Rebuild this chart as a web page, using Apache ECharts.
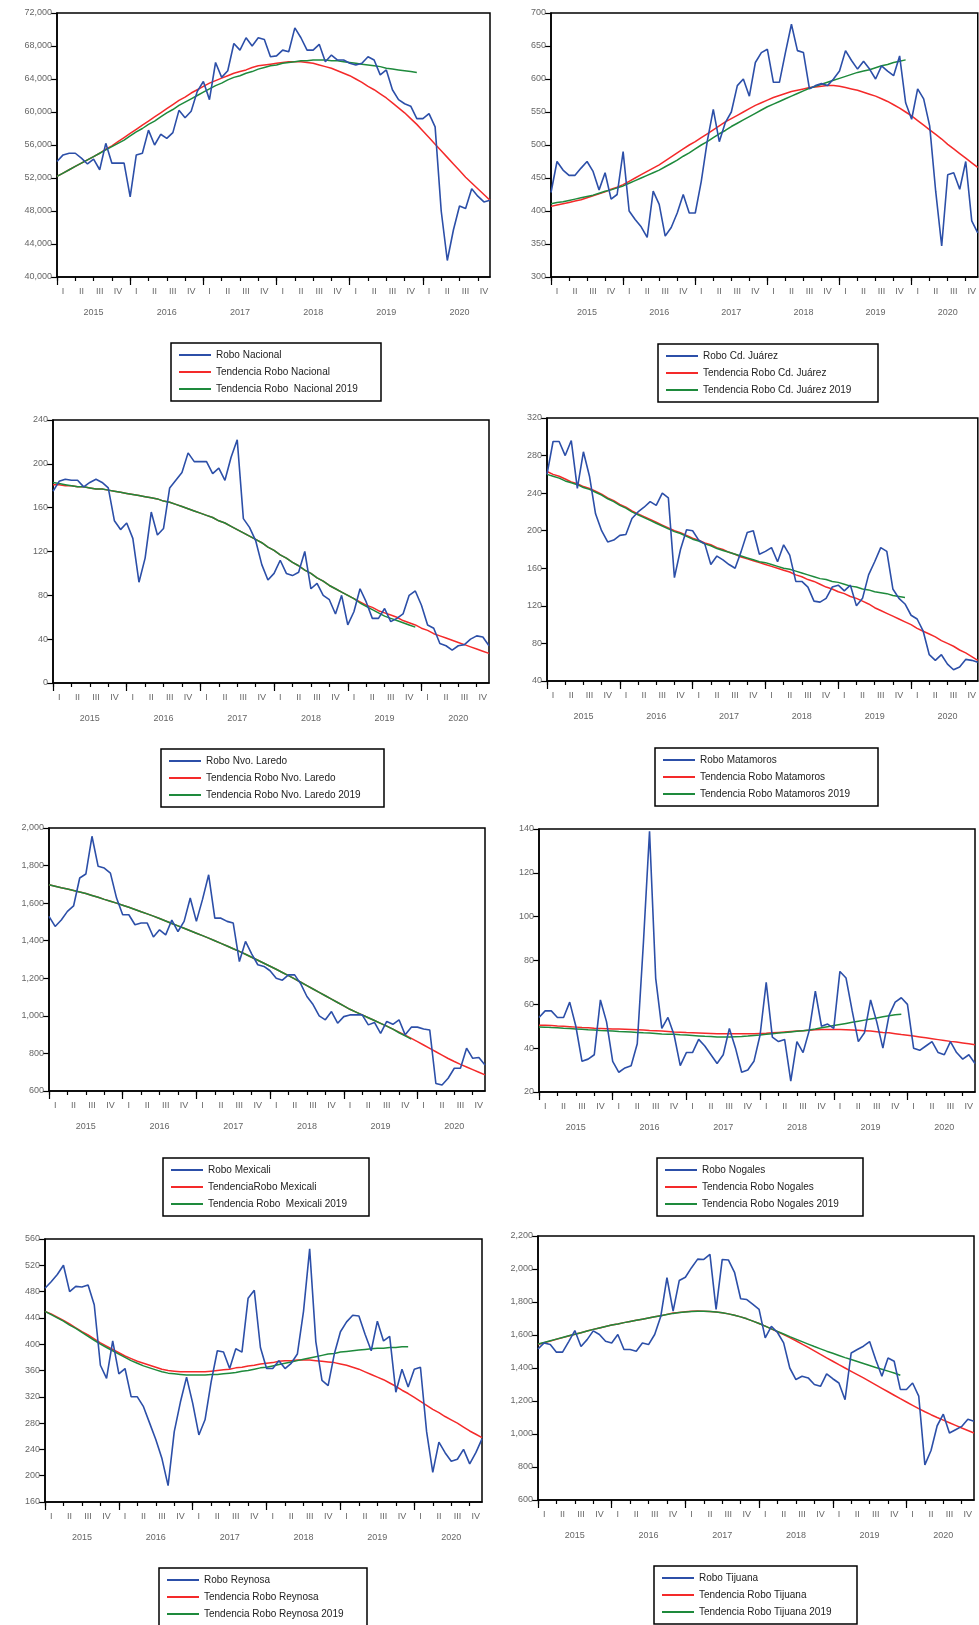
<!DOCTYPE html>
<html>
<head>
<meta charset="utf-8">
<title>Robo - tendencias</title>
<script src="https://cdn.jsdelivr.net/npm/echarts@6/dist/echarts.min.js"></script>
<style>
  html, body { margin: 0; padding: 0; background: #fff; }
  #chart { width: 979px; height: 1625px; }
</style>
</head>
<body>
<div id="chart"></div>
<script>
// ---- monthly series, Jan 2015 .. Dec 2020 (trend 2019 ends Dec 2019) ----
var nacional = [54000,54800,55000,55000,54400,53700,54300,53000,56200,53800,53800,53800,
  49700,54800,55000,57800,56000,57300,56800,57500,60200,59300,60100,62500,
  63700,61500,66000,64200,65000,68300,67500,69000,68000,69000,68800,66700,
  66800,67500,67300,70200,69000,67500,67500,68200,66100,66900,66300,66300,
  65900,65700,65900,66700,66300,64500,65100,62700,61500,61000,60700,59200,
  59200,59800,58200,48000,42000,45700,48600,48300,50700,49800,49100,49300];
var nacionalTend = [52200,52600,53000,53400,53800,54200,54600,55000,55500,55900,56400,56900,
  57400,57900,58400,58900,59400,59900,60400,60900,61400,61800,62300,62700,
  63100,63500,63800,64100,64400,64700,64900,65100,65400,65600,65700,65800,
  65900,66000,66100,66100,66100,66000,65900,65700,65500,65300,65000,64700,
  64400,64000,63600,63100,62700,62200,61700,61100,60500,59900,59200,58500,
  57700,56900,56100,55300,54500,53700,52900,52100,51400,50700,50000,49300];
var nacionalTend2019 = [52200,52600,53000,53400,53800,54200,54600,55000,55400,55800,56200,56600,
  57100,57600,58000,58500,58900,59400,59900,60300,60800,61200,61600,62000,
  62400,62800,63200,63500,63900,64200,64400,64700,64900,65200,65400,65600,
  65700,65900,66000,66100,66200,66200,66300,66300,66300,66200,66200,66100,
  66000,65900,65800,65700,65600,65500,65300,65200,65100,65000,64900,64800];

var juarez = [428,475,462,454,454,465,475,460,432,458,418,425,
  490,400,387,376,360,430,410,362,375,397,425,397,
  397,445,506,554,505,534,550,590,600,574,625,640,
  645,595,595,640,683,643,640,585,590,593,590,600,
  612,643,628,615,627,615,600,620,612,605,635,564,
  539,585,570,529,430,347,455,458,433,475,385,367];
var juarezTend = [407,409,411,413,415,417,420,423,426,429,433,436,
  440,445,450,455,460,465,470,476,482,488,494,500,
  505,511,517,523,529,535,540,545,550,555,560,564,
  568,572,575,578,581,583,585,587,588,589,590,590,
  589,587,585,583,580,577,574,570,566,561,556,550,
  544,537,530,523,516,509,501,494,487,480,473,466];
var juarezTend2019 = [411,413,414,416,418,420,422,424,427,430,432,435,
  438,442,446,450,454,458,462,467,472,477,483,488,
  494,500,505,511,517,522,528,533,538,543,548,553,
  558,562,566,570,574,578,582,586,589,592,595,598,
  601,604,607,610,612,614,617,620,622,625,627,629];

var laredo = [175,184,186,185,185,179,183,186,183,178,148,140,
  146,132,92,114,156,135,141,178,185,192,210,202,
  202,202,191,196,185,206,222,150,142,130,108,94,
  100,112,100,98,101,120,86,91,80,76,63,80,
  53,65,86,74,59,59,68,56,59,63,80,84,
  71,53,50,36,34,30,34,35,40,43,42,34];
var laredoTend = [181,181,180,180,179,179,178,177,177,176,175,174,
  173,172,171,170,169,168,166,165,163,161,159,157,
  155,153,151,148,146,143,140,137,134,131,128,124,
  121,117,114,110,107,103,100,96,93,89,86,83,
  80,77,74,71,69,66,64,62,60,57,55,53,
  50,48,45,43,41,39,37,35,33,31,29,27];
var laredoTend2019 = [183,182,181,180,179,179,178,177,177,176,175,174,
  173,172,171,170,169,168,166,165,163,161,159,157,
  155,153,151,148,146,143,140,137,134,131,128,124,
  121,117,114,110,107,103,100,96,93,89,86,83,
  80,77,73,70,67,64,61,59,57,55,53,51];

var matamoros = [260,295,295,280,296,245,284,258,218,200,188,190,
  195,196,213,220,225,231,227,240,235,150,180,201,
  200,190,186,164,173,169,164,160,178,198,200,175,
  178,182,167,185,174,146,146,140,125,124,128,140,
  142,136,142,120,128,153,167,182,178,138,128,122,
  110,106,93,68,62,68,58,52,55,63,62,60];
var matamorosTend = [263,260,258,255,252,250,247,245,242,239,235,232,
  228,225,221,218,215,212,209,206,203,200,198,195,
  192,190,187,185,182,180,177,175,172,170,168,166,
  164,162,160,158,156,153,151,148,146,143,140,138,
  135,133,130,128,125,122,118,115,112,109,106,103,
  100,96,93,90,87,83,80,77,73,70,66,62];
var matamorosTend2019 = [260,258,256,253,251,249,246,244,241,238,234,231,
  227,224,220,217,214,211,208,205,202,199,197,194,
  191,189,186,184,181,179,177,175,173,171,169,167,
  166,164,162,160,159,157,155,153,151,149,148,146,
  145,143,141,140,138,137,135,134,133,131,130,129];

var mexicali = [1530,1476,1510,1556,1585,1734,1755,1956,1796,1787,1760,1627,
  1538,1538,1485,1494,1494,1420,1458,1431,1510,1449,1503,1627,
  1503,1620,1751,1520,1520,1503,1494,1289,1396,1330,1272,1263,
  1240,1200,1190,1218,1218,1170,1103,1060,1000,979,1023,961,
  996,1005,1005,1005,952,965,907,970,955,979,899,940,
  940,930,925,640,632,668,721,721,828,774,778,738];
var mexicaliTend = [1698,1690,1682,1675,1667,1659,1651,1641,1631,1620,1610,1600,
  1589,1578,1566,1554,1543,1531,1518,1505,1492,1479,1466,1453,
  1440,1427,1414,1400,1386,1372,1357,1343,1328,1312,1296,1280,
  1264,1248,1231,1214,1197,1179,1161,1143,1125,1107,1089,1071,
  1053,1035,1020,1005,990,975,960,945,929,913,897,880,
  863,845,827,809,791,773,757,742,728,714,700,686];
var mexicaliTend2019 = [1698,1690,1682,1675,1667,1659,1651,1641,1631,1620,1610,1600,
  1589,1578,1566,1554,1543,1531,1518,1505,1492,1479,1466,1453,
  1440,1427,1414,1400,1386,1372,1357,1343,1328,1312,1296,1280,
  1264,1248,1231,1214,1197,1179,1161,1143,1125,1107,1089,1071,
  1053,1035,1020,1005,990,975,960,945,929,910,893,876];

var nogales = [54,57,57,54,54,61,50,34,35,37,62,52,
  34,29,31,32,42,88,139,72,49,54,46,32,
  38,38,44,41,37,33,37,49,40,29,30,34,
  46,70,45,43,44,25,43,38,48,66,50,51,
  49,75,72,57,43,47,62,52,40,55,61,63,
  60,40,39,41,43,38,37,43,38,35,37,33];
var nogalesTend = [50.5,50.4,50.3,50.1,50.0,49.8,49.6,49.4,49.3,49.1,49.0,48.9,
  48.8,48.7,48.6,48.5,48.4,48.3,48.1,48.0,47.8,47.6,47.4,47.3,
  47.1,47.0,46.9,46.8,46.7,46.6,46.6,46.6,46.6,46.6,46.6,46.6,
  46.7,46.8,47.0,47.2,47.4,47.6,47.8,48.0,48.2,48.4,48.5,48.5,
  48.5,48.5,48.4,48.3,48.2,48.0,47.8,47.5,47.2,47.0,46.6,46.2,
  45.9,45.5,45.1,44.7,44.3,43.9,43.5,43.1,42.8,42.4,42.0,41.6];
var nogalesTend2019 = [49.7,49.6,49.4,49.3,49.1,49.0,48.8,48.6,48.4,48.3,48.1,48.0,
  47.8,47.6,47.5,47.4,47.2,47.0,46.9,46.7,46.5,46.4,46.3,46.1,
  46.0,45.8,45.6,45.4,45.3,45.1,45.1,45.1,45.2,45.3,45.5,45.8,
  46.0,46.3,46.6,46.9,47.1,47.4,47.7,48.0,48.3,48.7,49.3,49.8,
  50.3,50.8,51.3,51.8,52.3,52.8,53.3,53.8,54.3,54.8,55.2,55.5];

var reynosa = [485,495,506,520,480,488,487,490,460,368,348,405,
  355,363,320,320,305,280,255,226,185,267,312,350,
  310,262,285,343,390,388,363,393,388,470,482,395,
  363,363,375,363,371,385,450,545,404,345,337,385,
  419,434,444,443,415,390,435,405,412,327,362,335,
  362,365,267,205,251,235,222,225,240,218,235,256];
var reynosaTend = [450,446,441,436,431,425,419,414,408,402,397,392,
  387,382,378,374,371,368,365,362,360,359,358,358,
  358,358,358,359,360,361,362,364,365,367,368,370,
  371,372,374,375,375,376,376,376,375,374,373,372,
  370,368,365,362,358,354,350,346,341,336,330,325,
  319,313,307,301,296,290,285,280,274,268,263,258];
var reynosaTend2019 = [450,445,440,435,429,424,418,412,406,400,395,390,
  385,380,375,371,367,364,361,358,356,355,354,353,
  353,353,353,354,354,355,356,357,359,360,362,364,
  365,367,369,371,373,375,377,379,381,383,385,386,
  388,389,390,391,392,393,394,394,395,395,396,396];

var tijuana = [1515,1552,1542,1496,1496,1560,1627,1530,1572,1625,1603,1562,
  1552,1603,1512,1512,1502,1552,1542,1603,1714,1947,1745,1930,
  1950,2008,2060,2058,2089,1755,2058,2055,1980,1820,1815,1785,
  1755,1583,1653,1615,1552,1400,1330,1350,1340,1300,1289,1365,
  1335,1309,1208,1491,1512,1532,1560,1450,1350,1461,1441,1270,
  1270,1309,1230,813,900,1050,1120,1006,1026,1046,1090,1077];
var tijuanaTend = [1542,1553,1563,1574,1584,1594,1604,1614,1624,1634,1643,1652,
  1660,1667,1675,1682,1689,1696,1703,1710,1717,1725,1733,1737,
  1741,1744,1745,1744,1742,1739,1735,1728,1720,1710,1698,1684,
  1670,1654,1637,1620,1602,1584,1565,1545,1525,1504,1482,1461,
  1441,1420,1400,1380,1360,1340,1319,1298,1277,1256,1235,1214,
  1194,1174,1154,1135,1117,1100,1084,1068,1052,1036,1021,1006];
var tijuanaTend2019 = [1545,1555,1565,1575,1585,1595,1605,1614,1624,1634,1643,1652,
  1660,1667,1675,1682,1689,1696,1703,1710,1717,1724,1731,1736,
  1740,1743,1744,1744,1742,1739,1735,1728,1720,1710,1698,1684,
  1670,1654,1637,1622,1606,1590,1575,1560,1545,1530,1516,1502,
  1489,1476,1463,1451,1439,1427,1415,1403,1392,1381,1370,1356];

// ---- axis labels ----
var years = [2015, 2016, 2017, 2018, 2019, 2020];
var quarters = ['I', 'II', 'III', 'IV'];
var months = [];
years.forEach(function (y) {
  for (var m = 1; m <= 12; m++) months.push(y + '-' + (m < 10 ? '0' + m : m));
});

var BLUE = '#2c4fa8', RED = '#f42a2a', GREEN = '#1e8a3c';
var FONT = 'Liberation Sans';

var panels = [
  {blue: nacional, red: nacionalTend, green: nacionalTend2019,
   names: ['Robo Nacional', 'Tendencia Robo Nacional', 'Tendencia Robo  Nacional 2019'],
   y: [40000, 72000, 4000]},
  {blue: juarez, red: juarezTend, green: juarezTend2019,
   names: ['Robo Cd. Juárez', 'Tendencia Robo Cd. Juárez', 'Tendencia Robo Cd. Juárez 2019'],
   y: [300, 700, 50]},
  {blue: laredo, red: laredoTend, green: laredoTend2019,
   names: ['Robo Nvo. Laredo', 'Tendencia Robo Nvo. Laredo', 'Tendencia Robo Nvo. Laredo 2019'],
   y: [0, 240, 40]},
  {blue: matamoros, red: matamorosTend, green: matamorosTend2019,
   names: ['Robo Matamoros', 'Tendencia Robo Matamoros', 'Tendencia Robo Matamoros 2019'],
   y: [40, 320, 40]},
  {blue: mexicali, red: mexicaliTend, green: mexicaliTend2019,
   names: ['Robo Mexicali', 'TendenciaRobo Mexicali', 'Tendencia Robo  Mexicali 2019'],
   y: [600, 2000, 200]},
  {blue: nogales, red: nogalesTend, green: nogalesTend2019,
   names: ['Robo Nogales', 'Tendencia Robo Nogales', 'Tendencia Robo Nogales 2019'],
   y: [20, 140, 20]},
  {blue: reynosa, red: reynosaTend, green: reynosaTend2019,
   names: ['Robo Reynosa', 'Tendencia Robo Reynosa', 'Tendencia Robo Reynosa 2019'],
   y: [160, 560, 40]},
  {blue: tijuana, red: tijuanaTend, green: tijuanaTend2019,
   names: ['Robo Tijuana', 'Tendencia Robo Tijuana', 'Tendencia Robo Tijuana 2019'],
   y: [600, 2200, 200]}
];

// where each panel sits on the page: grid [left, top, width, height], legend [left, top, box width]
var layout = [
  {grid: [57, 13, 433, 264], legend: [171, 343, 210]},
  {grid: [551, 13, 427, 264], legend: [658, 344, 220]},
  {grid: [53, 420, 436, 263], legend: [161, 749, 223]},
  {grid: [547, 418, 431, 263], legend: [655, 748, 223]},
  {grid: [49, 828, 436, 263], legend: [163, 1158, 206]},
  {grid: [539, 829, 436, 263], legend: [657, 1158, 206]},
  {grid: [45, 1239, 437, 263], legend: [159, 1568, 208]},
  {grid: [538, 1236, 436, 264], legend: [654, 1566, 203]}
];

function fmt(v) {
  return String(v).replace(/\B(?=(\d{3})+(?!\d))/g, ',');
}

// measure legend text so the boxes get the reference width
var measure = document.createElement('canvas').getContext('2d');
measure.font = '10px "' + FONT + '"';
function textWidth(list) {
  return Math.max.apply(null, list.map(function (s) { return measure.measureText(s).width; }));
}

var axisLine = {lineStyle: {color: '#000', width: 1.5}};
var tickStyle = {color: '#000', width: 1.2};
var labelStyle = {fontSize: 9, color: '#666', fontFamily: FONT};

var grids = [], xAxes = [], yAxes = [], series = [], legends = [];

panels.forEach(function (p, i) {
  var g = layout[i].grid, l = layout[i].legend;
  grids.push({left: g[0], top: g[1], width: g[2], height: g[3],
    show: true, borderColor: '#000', borderWidth: 1.5});

  // quarter ticks / labels
  xAxes.push({type: 'category', gridIndex: i, data: months, boundaryGap: false, position: 'bottom',
    axisLine: axisLine,
    axisTick: {length: 4, lineStyle: tickStyle, interval: function (k) { return k % 3 === 0; }},
    axisLabel: Object.assign({margin: 10, interval: function (k) { return k % 3 === 1; },
      formatter: function (v, k) { return quarters[Math.floor((k % 12) / 3)]; }}, labelStyle),
    splitLine: {show: false}});
  // year ticks / labels
  xAxes.push({type: 'category', gridIndex: i, data: months, boundaryGap: false, position: 'bottom',
    axisLine: {show: false},
    axisTick: {length: 8, lineStyle: tickStyle, interval: function (k) { return k % 12 === 0; }},
    axisLabel: Object.assign({margin: 31, interval: function (k) { return k % 12 === 6; },
      formatter: function (v) { return v.slice(0, 4); }}, labelStyle),
    splitLine: {show: false}});

  yAxes.push({type: 'value', gridIndex: i, min: p.y[0], max: p.y[1], interval: p.y[2],
    axisLine: {show: true, lineStyle: {color: '#000', width: 1.5}},
    axisTick: {show: true, length: 6, lineStyle: tickStyle},
    axisLabel: Object.assign({margin: 5, formatter: fmt}, labelStyle),
    splitLine: {show: false}});

  var xi = 2 * i;
  series.push({type: 'line', name: p.names[1], xAxisIndex: xi, yAxisIndex: i, data: p.red,
    showSymbol: false, z: 2, lineStyle: {color: RED, width: 1.5}, itemStyle: {color: RED}});
  series.push({type: 'line', name: p.names[2], xAxisIndex: xi, yAxisIndex: i, data: p.green,
    showSymbol: false, z: 3, lineStyle: {color: GREEN, width: 1.5}, itemStyle: {color: GREEN}});
  series.push({type: 'line', name: p.names[0], xAxisIndex: xi, yAxisIndex: i, data: p.blue,
    showSymbol: false, z: 4, lineStyle: {color: BLUE, width: 1.6}, itemStyle: {color: BLUE}});

  var rightPad = Math.max(6, l[2] - 8 - 32 - 5 - textWidth(p.names));
  legends.push({left: l[0], top: l[1], height: 120, orient: 'vertical', data: p.names,
    selectedMode: false,
    icon: 'rect', itemWidth: 32, itemHeight: 2, itemGap: 7, padding: [7, rightPad, 7, 8],
    borderColor: '#000', borderWidth: 1.5, backgroundColor: '#fff',
    textStyle: {fontSize: 10, color: '#222', fontFamily: FONT}});
});

var chart = echarts.init(document.getElementById('chart'), null, {renderer: 'canvas'});
chart.setOption({
  animation: false,
  backgroundColor: '#fff',
  grid: grids,
  xAxis: xAxes,
  yAxis: yAxes,
  legend: legends,
  series: series
});
</script>
</body>
</html>
